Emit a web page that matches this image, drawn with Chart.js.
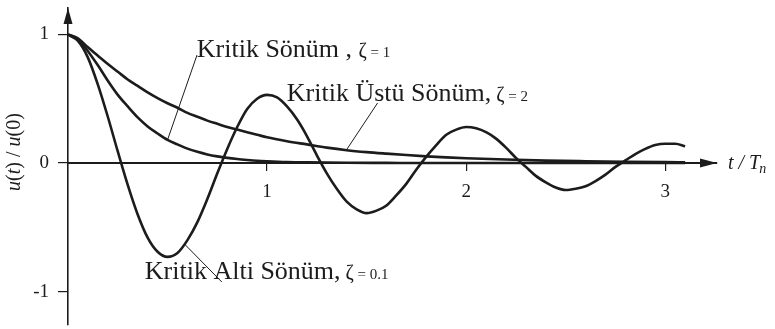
<!DOCTYPE html>
<html>
<head>
<meta charset="utf-8">
<script src="https://cdn.jsdelivr.net/npm/chart.js@4.4.0/dist/chart.umd.min.js"></script>
<style>
  html, body { margin: 0; padding: 0; background: #fff; }
</style>
</head>
<body>
<canvas id="myChart" width="775" height="329"></canvas>
<script>
// free vibration response u(t)/u(0) against t/Tn
var tUnder = [0, 0.05, 0.1, 0.15, 0.2, 0.25, 0.3, 0.35, 0.4, 0.45, 0.5, 0.55, 0.6, 0.65, 0.7, 0.75, 0.8, 0.85, 0.9, 0.95,
    1, 1.05, 1.1, 1.15, 1.2, 1.25, 1.3, 1.35, 1.4, 1.45, 1.5, 1.55, 1.6, 1.65, 1.7, 1.75, 1.8, 1.85, 1.9, 1.95,
    2, 2.05, 2.1, 2.15, 2.2, 2.25, 2.3, 2.35, 2.4, 2.45, 2.5, 2.55, 2.6, 2.65, 2.7, 2.75, 2.8, 2.85, 2.9, 2.95,
    3, 3.05, 3.1]
var uUnder = [1, 0.95, 0.82, 0.61, 0.36, 0.09, -0.17, -0.40, -0.58, -0.69, -0.73, -0.70, -0.60, -0.46, -0.28, -0.08, 0.11, 0.28, 0.42, 0.50,
    0.53, 0.51, 0.44, 0.34, 0.21, 0.06, -0.08, -0.20, -0.30, -0.36, -0.39, -0.37, -0.33, -0.25, -0.16, -0.05, 0.05, 0.14, 0.22, 0.26,
    0.28, 0.27, 0.24, 0.19, 0.12, 0.04, -0.03, -0.10, -0.15, -0.19, -0.21, -0.20, -0.18, -0.14, -0.09, -0.03, 0.02, 0.07, 0.11, 0.14,
    0.15, 0.15, 0.13]

var tCrit = [0, 0.05, 0.1, 0.15, 0.2, 0.25, 0.3, 0.35, 0.4, 0.45, 0.5, 0.55, 0.6, 0.65, 0.7, 0.75, 0.8, 0.85, 0.9, 0.95,
    1, 1.1, 1.2, 1.4, 1.6, 2, 2.5, 3.1]
var uCrit = [1, 0.96, 0.87, 0.76, 0.64, 0.53, 0.44, 0.355, 0.285, 0.23, 0.18, 0.145, 0.112, 0.087, 0.067, 0.052, 0.04, 0.031, 0.024, 0.018,
    0.014, 0.008, 0.005, 0.002, 0.001, 0, 0, 0]

var tOver = [0, 0.05, 0.1, 0.15, 0.2, 0.25, 0.3, 0.35, 0.4, 0.45, 0.5, 0.55, 0.6, 0.65, 0.7, 0.75, 0.8, 0.85, 0.9, 0.95,
    1, 1.1, 1.2, 1.3, 1.4, 1.5, 1.6, 1.7, 1.8, 1.9, 2, 2.2, 2.4, 2.6, 2.8, 3, 3.1]
var uOver = [1, 0.97, 0.90, 0.835, 0.77, 0.71, 0.65, 0.60, 0.55, 0.505, 0.465, 0.43, 0.39, 0.36, 0.33, 0.305, 0.28, 0.26, 0.24, 0.22,
    0.20, 0.17, 0.145, 0.12, 0.10, 0.085, 0.073, 0.062, 0.052, 0.044, 0.037, 0.027, 0.019, 0.014, 0.01, 0.007, 0.006]

var xTicks = [1, 2, 3]
var yTicks = [-1, 0, 1]

var ink = '#1c1c1c'
var serif = '"Liberation Serif", "DejaVu Serif", serif'

function pts(t, u){
    var out = []
    for(var i = 0 ; i < t.length ; i++){
        out.push({x: t[i], y: u[i]})
    }
    return out
}

// curve labels: text pieces, anchor (data units) and leader line
var notes = [
    {at: [0.647, 0.825], runs: [['Kritik Sönüm', 26], [' , ', 26], ['ζ', 20], [' = 1', 15]],
        from: [0.5, 0.18], to: [0.648, 0.84]},
    {at: [1.099, 0.483], runs: [['Kritik Üstü Sönüm,', 26], [' ζ', 20], [' = 2', 15]],
        from: [1.40, 0.105], to: [1.555, 0.467]},
    {at: [0.386, -0.903], runs: [['Kritik Alti Sönüm,', 26], [' ζ', 20], [' = 0.1', 15]],
        from: [0.585, -0.63], to: [0.773, -0.926]}
]

var decor = {
    id: 'decor',
    afterDraw: function(chart){
        var c = chart.ctx
        var xs = chart.scales.x
        var ys = chart.scales.y
        var a = chart.chartArea
        var x0 = xs.getPixelForValue(0)
        var y0 = ys.getPixelForValue(0)
        c.save()
        c.fillStyle = ink
        c.strokeStyle = ink

        // arrow heads
        c.beginPath()
        c.moveTo(x0, a.top)
        c.lineTo(x0 - 4.5, a.top + 16)
        c.lineTo(x0 + 4.5, a.top + 16)
        c.closePath()
        c.fill()
        c.beginPath()
        c.moveTo(a.right, y0)
        c.lineTo(a.right - 17, y0 - 4.5)
        c.lineTo(a.right - 17, y0 + 4.5)
        c.closePath()
        c.fill()

        // leader lines
        c.lineWidth = 1
        notes.forEach(function(n){
            c.beginPath()
            c.moveTo(xs.getPixelForValue(n.from[0]), ys.getPixelForValue(n.from[1]))
            c.lineTo(xs.getPixelForValue(n.to[0]), ys.getPixelForValue(n.to[1]))
            c.stroke()
        })

        // label text
        c.textBaseline = 'alphabetic'
        c.textAlign = 'left'
        notes.forEach(function(n){
            var px = xs.getPixelForValue(n.at[0])
            var py = ys.getPixelForValue(n.at[1])
            n.runs.forEach(function(r){
                c.font = r[1] + 'px ' + serif
                c.fillText(r[0], px, py)
                px += c.measureText(r[0]).width
            })
        })

        // y axis title, rotated
        var parts = [['u', 'italic '], ['(', ''], ['t', 'italic '], [') / ', ''], ['u', 'italic '], ['(0)', '']]
        c.save()
        c.translate(20, 152)
        c.rotate(-Math.PI / 2)
        var total = 0
        parts.forEach(function(p){
            c.font = p[1] + '20px ' + serif
            total += c.measureText(p[0]).width
        })
        var cx = -total / 2
        parts.forEach(function(p){
            c.font = p[1] + '20px ' + serif
            c.fillText(p[0], cx, 0)
            cx += c.measureText(p[0]).width
        })
        c.restore()

        // x axis title t / Tn
        var tx = a.right + 11
        var ty = y0 + 6
        c.font = 'italic 20px ' + serif
        c.fillText('t / T', tx, ty)
        tx += c.measureText('t / T').width
        c.font = 'italic 14px ' + serif
        c.fillText('n', tx - 1, ty + 4)
        c.restore()
    }
}

var ctx = document.getElementById('myChart').getContext('2d')
var chart = new Chart(ctx, {
    type: 'line',
    plugins: [decor],
    data: {
        datasets: [{
            label: 'ζ = 0.1',
            data: pts(tUnder, uUnder),
            borderColor: ink,
            borderWidth: 2.6,
            pointRadius: 0,
            cubicInterpolationMode: 'monotone'
        }, {
            label: 'ζ = 1',
            data: pts(tCrit, uCrit),
            borderColor: ink,
            borderWidth: 2.6,
            pointRadius: 0,
            cubicInterpolationMode: 'monotone'
        }, {
            label: 'ζ = 2',
            data: pts(tOver, uOver),
            borderColor: ink,
            borderWidth: 2.6,
            pointRadius: 0,
            cubicInterpolationMode: 'monotone'
        }]
    },
    options: {
        responsive: false,
        animation: false,
        devicePixelRatio: 1,
        layout: {
            padding: {left: 0, right: 58, top: 8, bottom: 4}
        },
        plugins: {
            legend: {display: false},
            tooltip: {enabled: false}
        },
        scales: {
            x: {
                type: 'linear',
                min: 0,
                max: 3.26,
                position: {y: 0},
                afterBuildTicks: function(s){
                    s.ticks = xTicks.map(function(v){ return {value: v} })
                },
                // axis sits on u = 0, so it should not eat into the margins
                afterFit: function(s){
                    s.height = 0
                    s.paddingLeft = 0
                    s.paddingRight = 0
                },
                grid: {
                    drawOnChartArea: false,
                    drawTicks: true,
                    tickLength: 7,
                    color: ink,
                    lineWidth: 1.2
                },
                border: {display: true, color: ink, width: 2},
                ticks: {
                    color: ink,
                    padding: 11,
                    font: {family: serif, size: 19}
                }
            },
            y: {
                type: 'linear',
                min: -1.26,
                max: 1.206,
                position: 'left',
                afterBuildTicks: function(s){
                    s.ticks = yTicks.map(function(v){ return {value: v} })
                },
                // fixed width, and no extra room reserved for the end labels
                afterFit: function(s){
                    s.width = 68
                    s.paddingTop = 0
                    s.paddingBottom = 0
                },
                grid: {
                    drawOnChartArea: false,
                    drawTicks: true,
                    tickLength: 10,
                    color: ink,
                    lineWidth: 1.2
                },
                border: {display: true, color: ink, width: 1.6},
                ticks: {
                    color: ink,
                    padding: 9,
                    font: {family: serif, size: 19}
                }
            }
        }
    }
})
</script>
</body>
</html>
